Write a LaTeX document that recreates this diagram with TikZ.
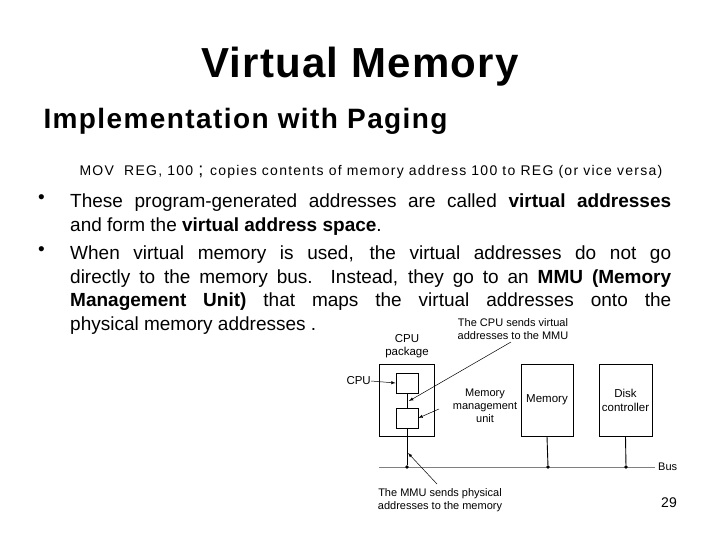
\documentclass[tikz,border=0pt]{standalone}
\usepackage{fontspec}
\setmainfont{Liberation Sans}
\begin{document}
\begin{tikzpicture}[x=1pt,y=-1pt,
  box/.style={draw,line width=0.8pt,inner sep=0pt},
  small/.style={font=\fontsize{11}{12.5}\selectfont,align=center,inner sep=0pt},
  arr/.style={-latex,line width=0.5pt},
  dot/.style={circle,fill,inner sep=1.3pt}]
\useasboundingbox (0,0) rectangle (720,540);
\node (title) at (360,67) {\fontsize{42}{46}\selectfont\bfseries\addfontfeatures{LetterSpace=3} Virtual Memory};
\node[anchor=west] (sub) at (40,121) {\fontsize{28}{32}\selectfont\bfseries\addfontfeatures{LetterSpace=5} Implementation with Paging};
\node[anchor=west] (mov) at (76,172) {\fontsize{14}{16}\selectfont\addfontfeatures{LetterSpace=9} MOV\ \ REG, 100 \fontsize{18}{16}\selectfont; \fontsize{14}{16}\selectfont\addfontfeatures{LetterSpace=9} copies contents of memory address 100 to REG (or vice versa)};
\node[anchor=north west,inner sep=0pt] (b1) at (38,194) {\fontsize{19}{23.5}\selectfont\textbullet};
\node[anchor=north west,inner sep=0pt,text width=601pt,align=justify] (t1) at (70,194) {\fontsize{19}{23.5}\selectfont These program-generated addresses are called \textbf{virtual addresses}\linebreak and form the \textbf{virtual address space}.\par};
\node[anchor=north west,inner sep=0pt] (b2) at (38,246) {\fontsize{19}{23.5}\selectfont\textbullet};
\node[anchor=north west,inner sep=0pt,text width=601pt,align=justify] (t2) at (70,246) {\fontsize{19}{23.5}\selectfont When virtual memory is used, the virtual addresses do not go\linebreak directly to the memory bus. Instead, they go to an \textbf{MMU (Memory}\linebreak \textbf{Management Unit)} that maps the virtual addresses onto the\linebreak physical memory addresses .\par};
% diagram
\node[box,minimum width=55pt,minimum height=72pt] (pkg) at (406.5,400) {};
\node[box,minimum width=22pt,minimum height=20pt] (cpu) at (407,383) {};
\node[box,minimum width=22pt,minimum height=20pt] (mmu) at (407,418) {};
\node[box,minimum width=52pt,minimum height=72pt,small,font=\fontsize{11.5}{12}\selectfont] (mem) at (547,400) {Memory};
\node[box,minimum width=53pt,minimum height=72pt,small,font=\fontsize{11.5}{14}\selectfont] (disk) at (625.5,400) {Disk\\controller};
\coordinate (busL) at (379,467);
\coordinate (busR) at (655,467);
\draw[gray,line width=0.8pt] (busL) -- (busR);
\node[small,anchor=west,font=\fontsize{11}{12}\selectfont] (bus) at (658,467) {Bus};
\node[dot] (d1) at (407,467) {};
\node[dot] (d2) at (548,467) {};
\node[dot] (d3) at (626,467) {};
\draw[line width=0.9pt] (cpu.south) -- (mmu.north);
\draw[line width=0.9pt] (mmu.south) -- (d1);
\draw[line width=0.9pt] (mem.south) -- (d2);
\draw[line width=0.9pt] (disk.south) -- (d3);
\node[small,font=\fontsize{11.5}{13.5}\selectfont] (pkgl) at (407,346) {CPU\\package};
\node[small,anchor=east,font=\fontsize{11.5}{12}\selectfont] (cpul) at (371,381) {CPU};
\draw[arr] (cpul.east) -- (cpu.west);
\node[small,font=\fontsize{11}{13}\selectfont] (mmul) at (485,406) {Memory\\management\\unit};
\coordinate (mmuA) at (439,409);
\draw[arr] (mmuA) -- (mmu.east);
\node[small] (topl) at (513,329) {The CPU sends virtual\\addresses to the MMU};
\coordinate (topA) at (511,342);
\coordinate (topB) at (409,401);
\draw[arr] (topA) -- (topB);
\node[small] (botl) at (440,500) {The MMU sends physical\\addresses to the memory};
\coordinate (botA) at (437,484);
\coordinate (botB) at (408,453);
\draw[arr] (botA) -- (botB);
\node (pg) at (669,503) {\fontsize{14}{16}\selectfont 29};
\end{tikzpicture}
\end{document}
